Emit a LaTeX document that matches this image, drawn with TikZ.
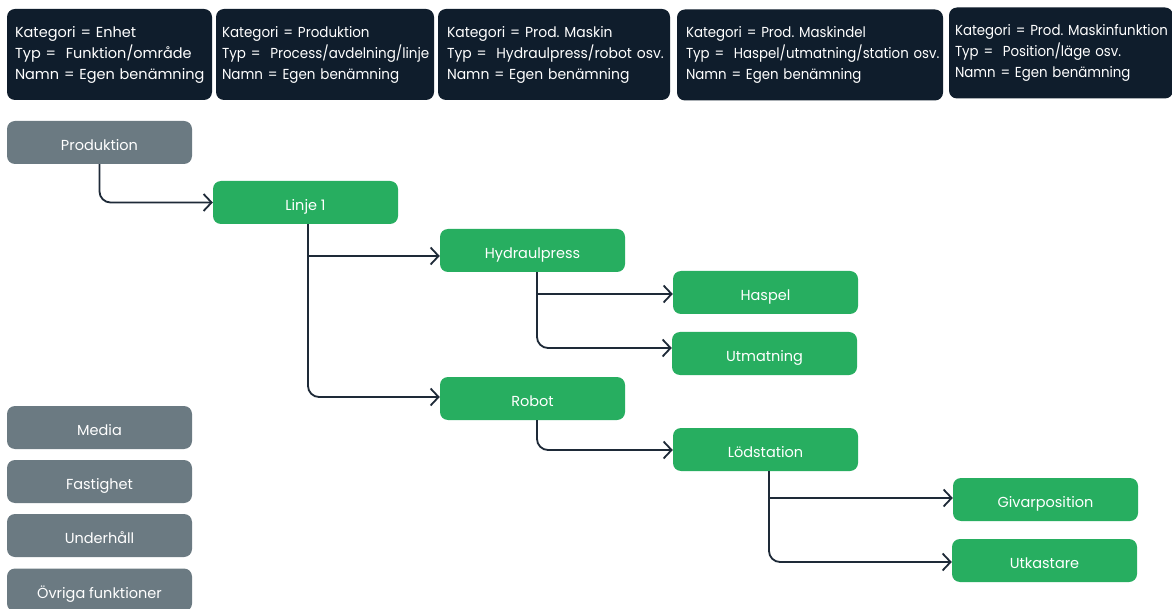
\documentclass[tikz,border=0pt]{standalone}
\usepackage{fontspec}
\setmainfont{Poppins}
\newfontfamily\narrowA[FakeStretch=0.96]{Poppins}
\newfontfamily\narrowB[FakeStretch=0.92]{Poppins}
\newfontfamily\narrowC[FakeStretch=0.93]{Poppins}
\usetikzlibrary{arrows.meta}
\frenchspacing
\definecolor{navy}{HTML}{0F1D2C}
\definecolor{greybox}{HTML}{6B7A82}
\definecolor{greenbox}{HTML}{27AE60}
\definecolor{linec}{HTML}{1E2A38}
\newcommand\lline[1]{\makebox[\linewidth][l]{#1}}
\tikzset{
  hdr/.style={fill=navy, draw=none, rounded corners=8pt, text=white, align=left,
    minimum height=91pt, inner ysep=0pt, font=\frenchspacing\fontsize{14.5}{21}\selectfont},
  box/.style={rounded corners=8pt, draw=none, text=white, minimum width=185pt,
    minimum height=43pt, inner sep=0pt, text height=16pt, text depth=0pt,
    font=\fontsize{14.5}{16}\selectfont},
  grey/.style={box, fill=greybox},
  green/.style={box, fill=greenbox},
  conn/.style={draw=linec, line width=1.8pt,
    -{Straight Barb[length=8pt,width=17pt]}},
}
\begin{document}
\begin{tikzpicture}[x=1pt,y=-1pt]
\useasboundingbox[fill=white] (0,0) rectangle (1172,609);
% header boxes
\node[hdr, text width=189pt, inner xsep=8pt] (h1) at (109.5,54.5)
  {\lline{Kategori = Enhet}\\\lline{Typ =\ \ Funktion/område}\\\lline{Namn = Egen benämning}};
\node[hdr, text width=206pt, inner xsep=6pt, font=\narrowC\frenchspacing\fontsize{14.5}{21}\selectfont] (h2) at (325,54.5)
  {\lline{Kategori = Produktion}\\\lline{Typ =\ \ Process/avdelning/linje}\\\lline{Namn = Egen benämning}};
\node[hdr, text width=214pt, inner xsep=9pt, font=\narrowA\frenchspacing\fontsize{14.5}{21}\selectfont] (h3) at (554,54.5)
  {\lline{Kategori = Prod. Maskin}\\\lline{Typ =\ \ Hydraulpress/robot osv.}\\\lline{Namn = Egen benämning}};
\node[hdr, text width=248pt, inner xsep=9pt, font=\narrowB\frenchspacing\fontsize{14.5}{21}\selectfont] (h4) at (810,55)
  {\lline{Kategori = Prod. Maskindel}\\\lline{Typ =\ \ Haspel/utmatning/station osv.}\\\lline{Namn = Egen benämning}};
\node[hdr, text width=212pt, inner xsep=6pt, font=\narrowB\frenchspacing\fontsize{14.5}{21}\selectfont] (h5) at (1061,53)
  {\lline{Kategori = Prod. Maskinfunktion}\\\lline{Typ =\ \ Position/läge osv.}\\\lline{Namn = Egen benämning}};
% grey nodes
\node[grey] (prod) at (99.5,142.5) {Produktion};
\node[grey] (media) at (99.5,427.5) {Media};
\node[grey] (fast) at (99.5,481.5) {Fastighet};
\node[grey] (under) at (99.5,535.5) {Underhåll};
\node[grey] (ovr) at (99.5,590) {Övriga funktioner};
% green nodes
\node[green] (lin) at (305.5,202.5) {Linje 1};
\node[green] (hyd) at (532.5,250.5) {Hydraulpress};
\node[green] (has) at (765.5,292.5) {Haspel};
\node[green] (utm) at (764.5,353.5) {Utmatning};
\node[green] (rob) at (532.5,398.5) {Robot};
\node[green] (lod) at (765.5,449.5) {Lödstation};
\node[green] (giv) at (1045.5,499.5) {Givarposition};
\node[green] (utk) at (1044.5,560.5) {Utkastare};
% connectors
\draw[conn, rounded corners=11pt] (prod.south) |- (lin.west);
\draw[conn] ([xshift=2.5pt]lin.south) |- ([yshift=-5.5pt]hyd.west);
\draw[conn, rounded corners=11pt] ([xshift=2.5pt]lin.south) |- ([yshift=1.5pt]rob.west);
\draw[conn] ([xshift=4.5pt]hyd.south) |- ([yshift=-1.5pt]has.west);
\draw[conn, rounded corners=11pt] ([xshift=4.5pt]hyd.south) |- ([yshift=5.5pt]utm.west);
\draw[conn, rounded corners=11pt] ([xshift=4.5pt]rob.south) |- ([yshift=-0.5pt]lod.west);
\draw[conn] ([xshift=3.5pt]lod.south) |- ([yshift=1.5pt]giv.west);
\draw[conn, rounded corners=11pt] ([xshift=3.5pt]lod.south) |- ([yshift=-1.5pt]utk.west);
\end{tikzpicture}
\end{document}
